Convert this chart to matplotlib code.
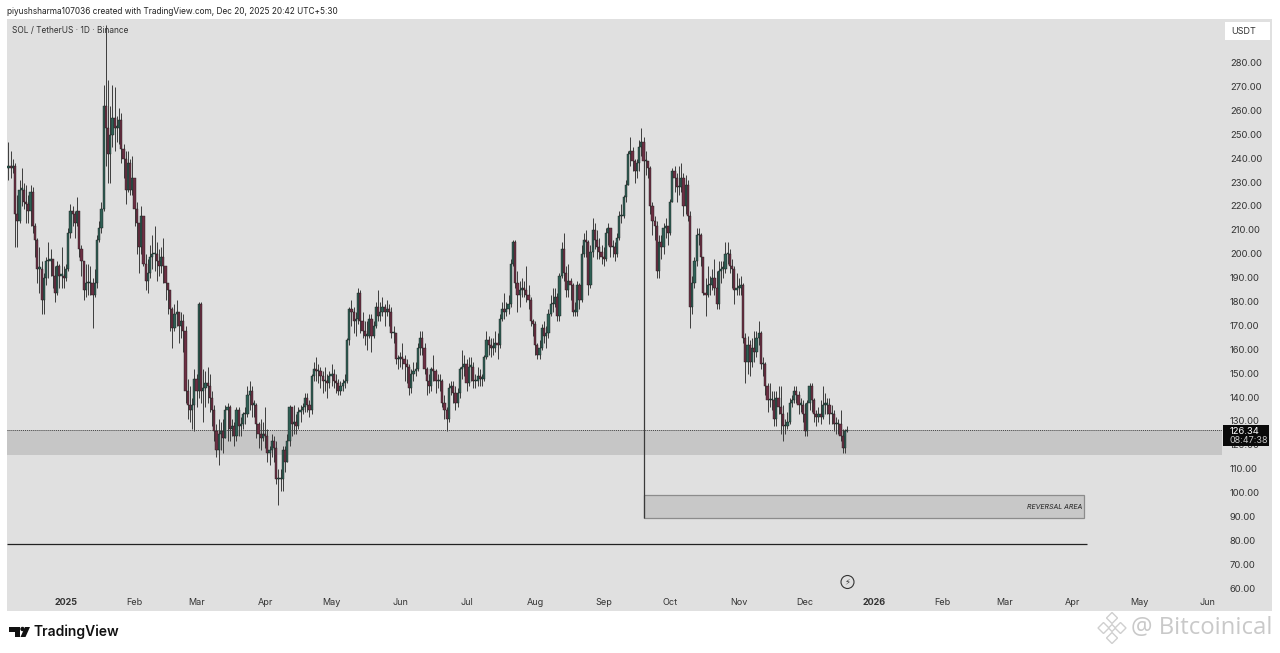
import numpy as np
import matplotlib
matplotlib.use('Agg')
import matplotlib.pyplot as plt
from matplotlib.patches import Rectangle, Polygon, Circle

plt.rcParams['font.family'] = ['Inter', 'DejaVu Sans']

# daily candles, first one is 5 Dec 2024
closes = [
    236, 237, 236, 237, 217, 214, 227, 227, 222, 221,
    218, 226, 212, 206, 194, 194, 181, 190, 197, 197,
    198, 191, 184, 195, 191, 191, 190, 194, 209, 218,
    217, 213, 218, 202, 197, 185, 188, 188, 188, 183,
    188, 206, 211, 219, 262, 253, 242, 250, 257, 253,
    253, 256, 244, 240, 227, 238, 227, 232, 219, 213,
    203, 216, 196, 189, 192, 199, 200, 200, 197, 195,
    199, 195, 188, 185, 177, 169, 175, 176, 170, 172,
    168, 143, 137, 135, 137, 148, 143, 179, 143, 144,
    146, 145, 140, 135, 126, 118, 125, 126, 123, 135,
    136, 127, 128, 124, 135, 128, 129, 133, 133, 141,
    143, 137, 137, 129, 125, 123, 125, 124, 117, 118,
    122, 119, 106, 106, 106, 118, 113, 122, 136, 129,
    130, 128, 134, 135, 136, 140, 137, 135, 149, 152,
    151, 151, 149, 147, 147, 146, 149, 150, 147, 146,
    143, 145, 146, 147, 164, 177, 176, 172, 173, 184,
    172, 168, 166, 166, 173, 166, 170, 178, 174, 176,
    178, 176, 177, 176, 167, 167, 156, 156, 157, 156,
    154, 153, 144, 150, 151, 152, 161, 165, 161, 152,
    147, 145, 152, 151, 147, 147, 147, 138, 135, 131,
    144, 145, 142, 138, 142, 152, 153, 154, 146, 153,
    153, 147, 147, 149, 148, 148, 157, 164, 162, 161,
    161, 163, 162, 173, 177, 176, 177, 179, 196, 205,
    188, 183, 185, 186, 185, 183, 181, 172, 171, 162,
    158, 161, 169, 166, 167, 175, 179, 179, 182, 174,
    191, 202, 192, 185, 189, 187, 176, 176, 187, 181,
    200, 206, 205, 187, 201, 210, 206, 203, 201, 199,
    198, 209, 211, 203, 203, 200, 207, 216, 216, 224,
    229, 242, 243, 239, 235, 238, 245, 247, 239, 239,
    236, 220, 214, 212, 193, 205, 203, 211, 212, 209,
    222, 235, 232, 228, 228, 232, 220, 229, 216, 178,
    188, 197, 208, 208, 199, 184, 183, 187, 187, 190,
    186, 179, 193, 194, 194, 200, 200, 195, 194, 185,
    186, 186, 187, 165, 155, 162, 155, 161, 159, 165,
    167, 154, 154, 145, 139, 139, 139, 131, 140, 136,
    133, 128, 128, 130, 138, 139, 143, 141, 137, 137,
    133, 126, 138, 145, 139, 133, 132, 133, 132, 137,
    137, 137, 133, 133, 129, 129, 129, 124, 119, 126,
    126.34,
]
highs = [
    247, 247, 243, 240, 238, 225, 231, 236, 230, 229,
    225, 229, 228, 213, 207, 203, 197, 192, 199, 205,
    202, 198, 195, 197, 196, 203, 195, 196, 211, 221,
    220, 218, 224, 212, 204, 195, 196, 196, 195, 190,
    194, 208, 214, 222, 271, 296, 273, 262, 271, 270,
    258, 261, 259, 246, 243, 243, 240, 241, 232, 222,
    212, 220, 208, 200, 198, 204, 208, 212, 205, 202,
    203, 207, 195, 188, 185, 178, 179, 181, 176, 176,
    175, 170, 148, 145, 140, 152, 150, 180, 180, 152,
    151, 153, 150, 143, 137, 129, 131, 130, 131, 137,
    138, 137, 131, 130, 136, 136, 132, 134, 136, 145,
    147, 145, 139, 138, 130, 131, 130, 136, 127, 120,
    125, 124, 122, 110, 110, 120, 120, 125, 137, 135,
    137, 133, 136, 137, 138, 142, 142, 139, 150, 155,
    157, 154, 153, 151, 153, 150, 151, 154, 152, 150,
    148, 147, 148, 150, 165, 178, 181, 178, 176, 186,
    185, 176, 172, 172, 175, 175, 172, 180, 185, 180,
    182, 179, 181, 179, 178, 170, 167, 158, 159, 163,
    158, 156, 154, 152, 155, 155, 163, 168, 168, 163,
    153, 150, 153, 158, 152, 150, 150, 148, 141, 136,
    146, 147, 147, 145, 144, 153, 160, 158, 156, 157,
    157, 155, 150, 153, 152, 150, 158, 168, 166, 165,
    165, 168, 167, 175, 180, 184, 180, 183, 198, 206,
    206, 193, 189, 190, 189, 195, 187, 182, 173, 172,
    163, 164, 171, 172, 170, 177, 183, 186, 186, 184,
    192, 205, 209, 195, 196, 190, 188, 180, 189, 188,
    204, 209, 210, 206, 204, 215, 213, 210, 207, 204,
    203, 211, 213, 211, 206, 205, 209, 218, 221, 225,
    231, 243, 249, 245, 240, 240, 248, 253, 249, 243,
    239, 237, 222, 216, 214, 208, 208, 213, 215, 212,
    223, 236, 237, 234, 237, 238, 234, 233, 231, 218,
    191, 199, 211, 211, 209, 199, 190, 195, 191, 194,
    198, 193, 197, 197, 197, 205, 205, 202, 198, 195,
    192, 190, 191, 188, 167, 166, 164, 165, 168, 168,
    172, 168, 157, 155, 146, 146, 143, 143, 143, 145,
    145, 137, 131, 134, 140, 141, 145, 145, 143, 140,
    139, 138, 139, 146, 146, 140, 135, 136, 139, 145,
    142, 140, 140, 137, 135, 132, 131, 135, 127, 127,
    128,
]
lows = [
    231, 231, 232, 234, 203, 203, 213, 220, 219, 213,
    213, 212, 209, 199, 188, 184, 175, 175, 187, 190,
    191, 186, 180, 183, 186, 186, 186, 189, 193, 207,
    212, 207, 212, 199, 191, 181, 182, 183, 183, 169,
    182, 186, 205, 209, 218, 237, 230, 230, 245, 243,
    247, 246, 238, 232, 221, 226, 225, 225, 212, 200,
    192, 200, 195, 185, 184, 190, 194, 193, 189, 191,
    192, 188, 181, 175, 168, 161, 168, 170, 163, 165,
    159, 138, 131, 130, 127, 126, 136, 140, 138, 130,
    136, 138, 134, 128, 122, 115, 112, 118, 117, 123,
    122, 122, 124, 120, 122, 124, 124, 127, 129, 132,
    135, 132, 132, 123, 119, 118, 122, 119, 113, 112,
    115, 113, 104, 95, 101, 101, 109, 117, 120, 124,
    125, 125, 127, 130, 133, 134, 134, 132, 133, 147,
    147, 146, 144, 142, 143, 140, 144, 145, 144, 142,
    141, 141, 143, 144, 146, 162, 170, 167, 166, 171,
    167, 165, 162, 160, 165, 159, 165, 169, 172, 172,
    174, 170, 174, 170, 165, 163, 154, 152, 153, 152,
    147, 146, 141, 142, 147, 149, 151, 158, 158, 150,
    141, 142, 143, 147, 142, 144, 143, 136, 131, 126,
    130, 141, 138, 135, 136, 140, 148, 149, 143, 145,
    147, 144, 144, 145, 145, 145, 147, 156, 158, 157,
    158, 159, 156, 161, 172, 173, 174, 175, 178, 195,
    186, 176, 178, 182, 182, 180, 177, 170, 166, 158,
    156, 156, 160, 163, 161, 165, 174, 176, 178, 172,
    172, 190, 189, 182, 182, 181, 174, 174, 174, 177,
    180, 199, 199, 183, 186, 199, 202, 198, 198, 196,
    195, 197, 204, 199, 199, 197, 199, 206, 213, 215,
    222, 229, 237, 235, 230, 232, 235, 241, 235, 233,
    232, 217, 208, 206, 190, 190, 198, 200, 207, 204,
    208, 222, 226, 222, 225, 226, 216, 217, 214, 169,
    175, 186, 195, 204, 195, 183, 174, 182, 183, 185,
    183, 177, 177, 188, 190, 192, 196, 192, 186, 179,
    183, 183, 183, 163, 146, 150, 149, 153, 155, 157,
    162, 152, 149, 141, 134, 136, 135, 128, 128, 133,
    125, 122, 125, 127, 129, 136, 138, 138, 133, 134,
    130, 124, 124, 135, 134, 130, 128, 130, 129, 131,
    133, 133, 129, 129, 126, 125, 125, 122, 117, 117,
    125.5,
]

month_days = [0, 31, 59, 90, 120, 151, 181, 212, 243, 273, 304, 334, 365, 396, 424, 455, 485, 516]
month_labels = ['2025', 'Feb', 'Mar', 'Apr', 'May', 'Jun', 'Jul', 'Aug', 'Sep', 'Oct', 'Nov', 'Dec',
                '2026', 'Feb', 'Mar', 'Apr', 'May', 'Jun']
price_ticks = [280, 270, 260, 250, 240, 230, 220, 210, 200, 190, 180, 170,
               160, 150, 140, 130, 120, 110, 100, 90, 80, 70, 60]

last_price = 126.34
zone_top, zone_bottom = 126.4, 115.9
box_top, box_bottom = 99.2, 89.8
box_start, box_end = 261, 460.2
floor_price = 78.8
floor_end = 461.3
countdown = '08:47:38'

closes = np.array(closes, dtype=float)
opens = np.r_[closes[0], closes[:-1]]
highs = np.maximum(np.array(highs, dtype=float), np.maximum(opens, closes))
lows = np.minimum(np.array(lows, dtype=float), np.minimum(opens, closes))
days = np.arange(len(closes)) - 27

fig = plt.figure(figsize=(12.8, 6.53), dpi=100, facecolor='white')
ax = fig.add_axes([7 / 1280, 1 - 611 / 653, 1265 / 1280, 592 / 653], facecolor='#e0e0e0')
px_per_day = 2.213
ax.set_xlim((7 - 66) / px_per_day, (1272 - 66) / px_per_day)
ax.set_ylim(60 - (611 - 589) / 2.39, 280 + (63 - 19) / 2.39)
for s in ax.spines.values():
    s.set_visible(False)
ax.set_yticks([])

# zones and drawings under the candles
right_edge = (1222 - 66) / px_per_day
left_edge = ax.get_xlim()[0]
ax.add_patch(Rectangle((left_edge, zone_bottom), right_edge - left_edge, zone_top - zone_bottom,
                       facecolor='#c6c6c6', edgecolor='none', zorder=1))
ax.hlines(last_price, left_edge, right_edge, color='#444444', lw=0.7, linestyle=(0, (1, 1)), zorder=2)
ax.add_patch(Rectangle((box_start, box_bottom), box_end - box_start, box_top - box_bottom,
                       facecolor='#c8c8c8', edgecolor='#8c8c8c', lw=0.9, zorder=2))
ax.vlines(box_start, box_bottom, 247, color='#3a3a3a', lw=0.9, zorder=2)
ax.hlines(floor_price, left_edge, floor_end, color='#222222', lw=0.9, zorder=2)
ax.text(box_end - 1.2, (box_top + box_bottom) / 2, 'REVERSAL AREA', ha='right', va='center',
        fontsize=5, style='italic', color='#222222', zorder=3)

# candles
up = closes >= opens
ax.vlines(days, lows, highs, color='#3c3c3c', lw=0.7, zorder=3)
body_bottom = np.minimum(opens, closes)
body_height = np.maximum(np.abs(closes - opens), 0.6)
ax.bar(days[up], body_height[up], bottom=body_bottom[up], width=1.0, color='#2f6055',
       edgecolor='#1c1c1c', linewidth=0.3, zorder=4)
ax.bar(days[~up], body_height[~up], bottom=body_bottom[~up], width=1.0, color='#6d3044',
       edgecolor='#1c1c1c', linewidth=0.3, zorder=4)

# time axis
ax.set_xticks(month_days)
ax.set_xticklabels(month_labels, fontsize=6.5, color='#333333')
ax.tick_params(axis='x', length=0, pad=-9.5, direction='in')
for lbl in ax.get_xticklabels():
    if lbl.get_text() in ('2025', '2026'):
        lbl.set_fontweight('bold')

# overlay in picture pixels for the price scale and page furniture
ov = fig.add_axes([0, 0, 1, 1], facecolor='none')
ov.set_xlim(0, 1280)
ov.set_ylim(653, 0)
ov.axis('off')


def price_y(p):
    return 63 + (280 - p) * 2.39


clip = Rectangle((1200, 19), 80, 571.5, transform=ov.transData)
for p in price_ticks:
    t = ov.text(1230, price_y(p) + 0.5, '%.2f' % p, fontsize=6.8, color='#333333', va='center', ha='left')
    t.set_clip_path(clip)

ov.add_patch(Rectangle((1223, 425), 46, 21, facecolor='#0a0a0a', edgecolor='none', zorder=5))
ov.text(1230, 431, '%.2f' % last_price, fontsize=6.8, color='white', va='center', zorder=6)
ov.text(1229, 440.5, countdown, fontsize=6.5, color='#c8c8c8', va='center', zorder=6)

ov.add_patch(Rectangle((1225, 22), 45, 18, facecolor='white', edgecolor='none', zorder=5))
ov.text(1231, 31, 'USDT', fontsize=6.5, color='#333333', va='center', zorder=6)

ov.text(7, 11, 'piyushsharma107036 created with TradingView.com, Dec 20, 2025 20:42 UTC+5:30',
        fontsize=5.95, color='#222222', va='center')
ov.text(12.5, 30, 'SOL / TetherUS · 1D · Binance', fontsize=6, color='#333333', va='center', zorder=6)

# lightning marker
ov.add_patch(Circle((847.5, 582), 6.5, facecolor='#e0e0e0', edgecolor='#333333', lw=0.8))
ov.text(847.5, 582, '\u26a1', fontsize=6, color='#333333', ha='center', va='center',
        family=['DejaVu Sans'])

# TradingView logo
ov.add_patch(Polygon([(9, 627), (20, 627), (20, 637), (15, 637), (15, 632), (9, 632)], facecolor='#111111'))
ov.add_patch(Circle((22.5, 629), 2.2, facecolor='#111111'))
ov.add_patch(Polygon([(25, 627), (30, 627), (25.5, 637), (20.5, 637)], facecolor='#111111'))
ov.text(34, 632, 'TradingView', fontsize=10, fontweight='semibold', color='#111111', va='center')

# watermark
for cx, cy, r in [(1112, 618, 5.5), (1103.5, 628, 5.5), (1120.5, 628, 5.5), (1112, 638, 5.5), (1112, 628, 3.5)]:
    ov.add_patch(Polygon([(cx, cy - r), (cx + r, cy), (cx, cy + r), (cx - r, cy)],
                         facecolor='white', edgecolor='#cfcfcf', lw=1))
ov.text(1131, 628, '@ Bitcoinical', fontsize=17.2, color='#c9c9c9', va='center', family=['Open Sans', 'DejaVu Sans'])

fig.savefig('out.png', dpi=100)
